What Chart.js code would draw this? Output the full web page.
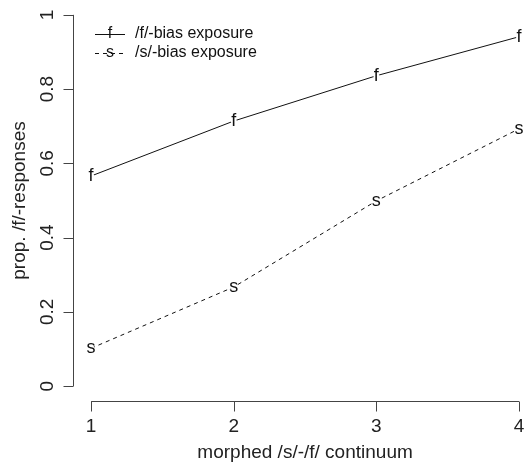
<!DOCTYPE html>
<html>
<head>
<meta charset="utf-8">
<script src="https://cdn.jsdelivr.net/npm/chart.js@4.4.0/dist/chart.umd.min.js"></script>
<style>
  html, body { margin: 0; padding: 0; background: #fff; }
  #wrap { width: 530px; height: 464px; position: relative; }
</style>
</head>
<body>
<div id="wrap"><canvas id="grafico" width="530" height="464"></canvas></div>
<script>
// dados
var continuum = [1, 2, 3, 4];
var fBias = [0.566, 0.714, 0.836, 0.941];
var sBias = [0.102, 0.267, 0.499, 0.693];
var xTicks = [1, 2, 3, 4];
var yTicks = [0, 0.2, 0.4, 0.6, 0.8, 1];
var yTickLabels = ["0", "0.2", "0.4", "0.6", "0.8", "1"];
var serieNomes = ["/f/-bias exposure", "/s/-bias exposure"];
var serieLetras = ["f", "s"];

var FONTE = "'Liberation Sans', Arial, sans-serif";
var COR_EIXO = "#444";
var COR_TEXTO = "#222";

function pontos(vals) {
  return continuum.map(function(x, i) { return { x: x, y: vals[i] }; });
}

// eixos no estilo R, desenhados com as escalas do Chart.js
var eixosR = {
  id: "eixosR",
  afterDraw: function(chart) {
    var ctx = chart.ctx;
    var xs = chart.scales.x, ys = chart.scales.y;
    var area = chart.chartArea;
    ctx.save();
    ctx.strokeStyle = COR_EIXO;
    ctx.lineWidth = 1;
    ctx.fillStyle = COR_TEXTO;

    // eixo x
    var yEixo = area.bottom + 0.5;
    ctx.beginPath();
    ctx.moveTo(xs.getPixelForValue(xTicks[0]), yEixo);
    ctx.lineTo(xs.getPixelForValue(xTicks[xTicks.length - 1]), yEixo);
    xTicks.forEach(function(t) {
      var px = Math.round(xs.getPixelForValue(t)) + 0.5;
      ctx.moveTo(px, yEixo);
      ctx.lineTo(px, yEixo + 10);
    });
    ctx.stroke();
    ctx.font = "19px " + FONTE;
    ctx.textAlign = "center";
    ctx.textBaseline = "middle";
    xTicks.forEach(function(t) {
      ctx.fillText(String(t), xs.getPixelForValue(t), 427);
    });
    ctx.fillText("morphed /s/-/f/ continuum", (xs.getPixelForValue(1) + xs.getPixelForValue(4)) / 2, 453);

    // eixo y
    var xEixo = area.left + 0.5;
    ctx.beginPath();
    ctx.moveTo(xEixo, ys.getPixelForValue(yTicks[0]));
    ctx.lineTo(xEixo, ys.getPixelForValue(yTicks[yTicks.length - 1]));
    yTicks.forEach(function(t) {
      var py = Math.round(ys.getPixelForValue(t)) + 0.5;
      ctx.moveTo(xEixo, py);
      ctx.lineTo(xEixo - 10, py);
    });
    ctx.stroke();
    yTicks.forEach(function(t, i) {
      ctx.save();
      ctx.translate(48, ys.getPixelForValue(t));
      ctx.rotate(-Math.PI / 2);
      ctx.fillText(yTickLabels[i], 0, 0);
      ctx.restore();
    });
    ctx.save();
    ctx.translate(20, (ys.getPixelForValue(0) + ys.getPixelForValue(1)) / 2);
    ctx.rotate(-Math.PI / 2);
    ctx.fillText("prop. /f/-responses", 0, 0);
    ctx.restore();

    // letras nos pontos
    ctx.font = "18px " + FONTE;
    chart.data.datasets.forEach(function(ds, di) {
      var meta = chart.getDatasetMeta(di);
      meta.data.forEach(function(el) {
        ctx.fillStyle = "#fff";
        ctx.beginPath();
        ctx.arc(el.x, el.y, 3, 0, Math.PI * 2);
        ctx.fill();
        ctx.fillStyle = "#111";
        ctx.fillText(serieLetras[di], el.x, el.y);
      });
    });

    // legenda
    var legY = [34, 53];
    ctx.font = "16px " + FONTE;
    serieNomes.forEach(function(nome, i) {
      ctx.strokeStyle = "#111";
      ctx.setLineDash(i === 0 ? [] : [4, 4]);
      ctx.beginPath();
      ctx.moveTo(95, legY[i] + 0.5);
      ctx.lineTo(125, legY[i] + 0.5);
      ctx.stroke();
      ctx.setLineDash([]);
      ctx.fillStyle = "#111";
      ctx.textAlign = "center";
      ctx.fillText(serieLetras[i], 110, legY[i]);
      ctx.textAlign = "left";
      ctx.fillText(nome, 135, legY[i]);
    });
    ctx.restore();
  }
};

new Chart(document.getElementById("grafico").getContext("2d"), {
  type: "line",
  data: {
    datasets: [
      { label: serieNomes[0], data: pontos(fBias), borderColor: "#111", borderWidth: 1, pointRadius: 0, fill: false },
      { label: serieNomes[1], data: pontos(sBias), borderColor: "#111", borderWidth: 1, borderDash: [4, 4], pointRadius: 0, fill: false }
    ]
  },
  options: {
    responsive: false,
    animation: false,
    events: [],
    layout: { padding: { left: 73, top: 0, right: 11, bottom: 63 } },
    plugins: { legend: { display: false }, tooltip: { enabled: false } },
    scales: {
      x: { type: "linear", display: false, min: 0.873, max: 4 },
      y: { type: "linear", display: false, min: -0.04, max: 1.04 }
    }
  },
  plugins: [eixosR]
});
</script>
</body>
</html>
